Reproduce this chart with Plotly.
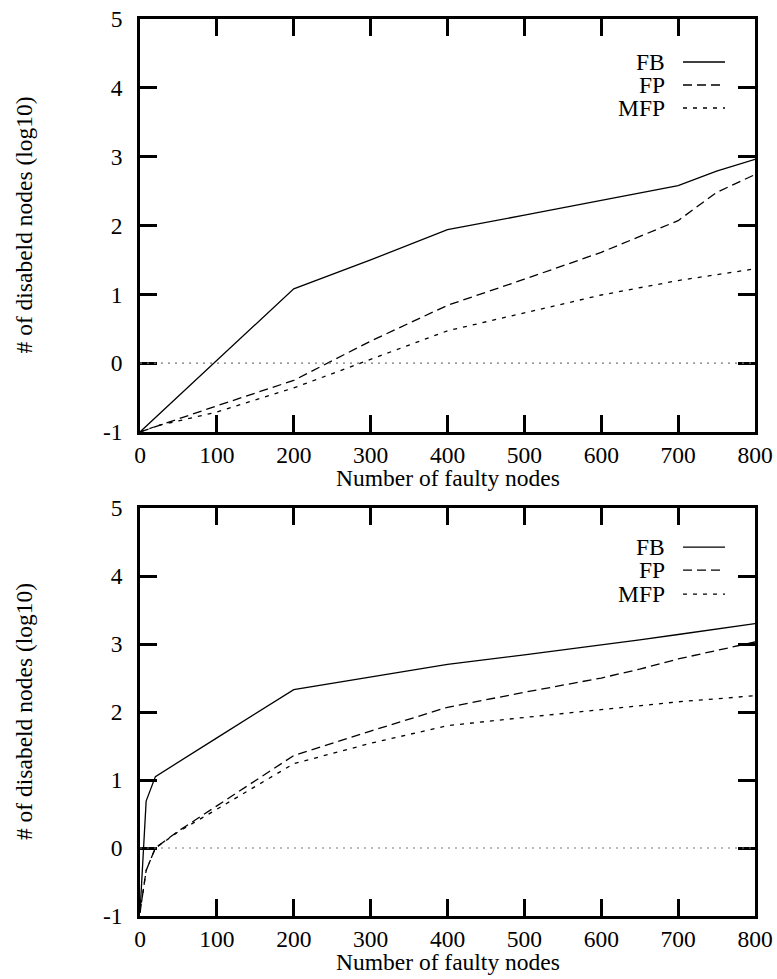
import plotly.graph_objects as go

# ---------------- data ----------------
X_TOP = [0, 25, 50, 100, 200, 300, 400, 500, 600, 700, 750, 800]
FB_TOP = [-1.0, -0.74, -0.48, 0.03, 1.08, 1.50, 1.94, 2.15, 2.37, 2.58, 2.79, 2.96]
FP_TOP = [-1.0, -0.90, -0.81, -0.62, -0.25, 0.32, 0.84, 1.22, 1.61, 2.07, 2.48, 2.74]
MFP_TOP = [-1.0, -0.90, -0.84, -0.71, -0.36, 0.05, 0.47, 0.73, 0.99, 1.20, 1.28, 1.37]

X_BOT = [0, 8, 20, 50, 100, 200, 300, 400, 500, 600, 650, 700, 800]
FB_BOT = [-0.95, 0.69, 1.05, 1.26, 1.62, 2.33, 2.52, 2.70, 2.84, 2.98, 3.06, 3.14, 3.30]
FP_BOT = [-0.95, -0.33, 0.00, 0.25, 0.62, 1.36, 1.72, 2.07, 2.29, 2.50, 2.63, 2.78, 3.03]
MFP_BOT = [-0.95, -0.33, 0.00, 0.24, 0.57, 1.24, 1.54, 1.80, 1.92, 2.04, 2.10, 2.15, 2.24]

SERIES_NAMES = ["FB", "FP", "MFP"]
X_TICKS = [0, 100, 200, 300, 400, 500, 600, 700, 800]
Y_TICKS = [-1, 0, 1, 2, 3, 4, 5]
Y_TICK_LABELS = ["-1", "0", "1", "2", "3", "4", "5"]
X_TITLE = "Number of faulty nodes"
Y_TITLE = "# of disabeld nodes (log10)"
REF_LEVEL = 0

# ---------------- style ----------------
FONT = "Liberation Serif, Times New Roman, serif"
FS = 23.5
DASHES = {"FB": "solid", "FP": "9px,5px", "MFP": "4px,6px"}

fig = go.Figure()

panels = [
    ("x", "y", X_TOP, [FB_TOP, FP_TOP, MFP_TOP]),
    ("x2", "y2", X_BOT, [FB_BOT, FP_BOT, MFP_BOT]),
]

for xa, ya, xs, ys_list in panels:
    for name, ys in zip(SERIES_NAMES, ys_list):
        fig.add_trace(go.Scatter(
            x=xs, y=ys, mode="lines", name=name, showlegend=False,
            line=dict(color="black", width=1.3, dash=DASHES[name]),
            xaxis=xa, yaxis=ya, hoverinfo="skip"))

axis_common = dict(
    showline=True, linecolor="black", linewidth=2.6, mirror="ticks",
    ticks="inside", ticklen=17, tickwidth=2.6, tickcolor="black",
    showgrid=False, zeroline=False, automargin=False,
    ticklabeloverflow="allow",
    tickfont=dict(family=FONT, size=FS, color="black"),
)
x_common = dict(range=[0, 800], tickvals=X_TICKS, ticklabelstandoff=0, **axis_common)
y_common = dict(range=[-1, 5], tickvals=Y_TICKS, ticktext=Y_TICK_LABELS,
                ticklabelstandoff=10, **axis_common)

fig.update_layout(
    width=777, height=979,
    margin=dict(l=140, r=22, t=19, b=63, autoexpand=False),
    paper_bgcolor="white", plot_bgcolor="white",
    font=dict(family=FONT, size=FS, color="black"),
    xaxis=dict(domain=[0, 1], anchor="y", **x_common),
    yaxis=dict(domain=[0.5396, 1], anchor="x", **y_common),
    xaxis2=dict(domain=[0, 1], anchor="y2", **x_common),
    yaxis2=dict(domain=[0, 0.4548], anchor="x2", **y_common),
)

# reference line at 0 (dotted grey)
for xa, ya in [("x", "y"), ("x2", "y2")]:
    fig.add_shape(type="line", xref=xa, yref=ya, x0=X_TICKS[0], x1=X_TICKS[-1],
                  y0=REF_LEVEL, y1=REF_LEVEL,
                  line=dict(color="#777777", width=1.2, dash="2px,5px"))

# axis titles
for xa, ya in [("x", "y"), ("x2", "y2")]:
    fig.add_annotation(text=X_TITLE, xref=f"{xa} domain", yref=f"{ya} domain",
                       x=0.5, y=0, yanchor="middle", yshift=-46, showarrow=False,
                       font=dict(family=FONT, size=FS, color="black"))
    fig.add_annotation(text=Y_TITLE, xref="paper", yref=f"{ya} domain",
                       x=(24 - 140) / 615, y=0.5, xanchor="center", yanchor="middle",
                       textangle=-90, showarrow=False,
                       font=dict(family=FONT, size=FS, color="black"))

# legends (text on the left, line sample on the right, gnuplot style)
legend_rows = {"y": [62 - 19, 85 - 19, 108 - 19], "y2": [547 - 508, 570 - 508, 594 - 508]}
for xa, ya in [("x", "y"), ("x2", "y2")]:
    for name, off in zip(SERIES_NAMES, legend_rows[ya]):
        fig.add_annotation(text=name, xref=f"{xa} domain", yref=f"{ya} domain",
                           x=(667 - 140) / 615, y=1, xanchor="right", yanchor="middle",
                           yshift=-off, showarrow=False,
                           font=dict(family=FONT, size=FS, color="black"))
    dom_h = 413 if ya == "y" else 408
    for name, off in zip(SERIES_NAMES, legend_rows[ya]):
        yy = 1 - off / dom_h
        fig.add_shape(type="line", xref=f"{xa} domain", yref=f"{ya} domain",
                      x0=(683 - 140) / 615, x1=(725 - 140) / 615, y0=yy, y1=yy,
                      line=dict(color="black", width=1.3, dash=DASHES[name]))

# remove the default 8px body margin so the figure fills the window exactly
fig.write_html("out.html", config={"displayModeBar": False},
               post_script="document.body.style.margin='0px';")
